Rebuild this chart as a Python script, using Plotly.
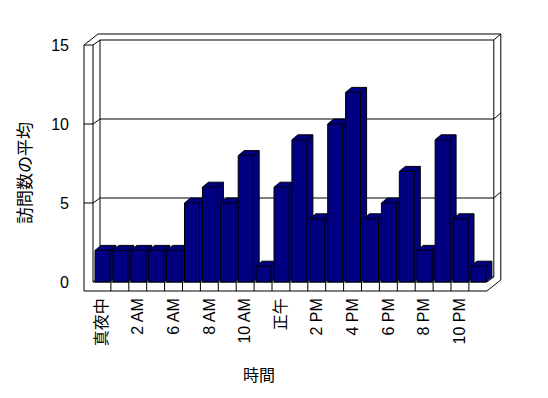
import plotly.graph_objects as go

# ---------------- data ----------------
categories = ["真夜中", "1 AM", "2 AM", "4 AM", "6 AM", "7 AM", "8 AM", "9 AM", "10 AM", "11 AM",
              "正午", "1 PM", "2 PM", "3 PM", "4 PM", "5 PM", "6 PM", "7 PM", "8 PM", "9 PM",
              "10 PM", "11 PM"]
visits = [2, 2, 2, 2, 2, 5, 6, 5, 8, 1, 6, 9, 4, 10, 12, 4, 5, 7, 2, 9, 4, 1]
y_ticks = [0, 5, 10, 15]
x_title = "時間"
y_title = "訪問数の平均"

# ---------------- geometry (reference pixels -> data units) ----------------
VW, VH = 548, 398      # window
OFF = 8                # page body margin
W, H = VW - OFF, VH - OFF
CW = 17.9              # px per category
VU = 15.8              # px per value unit
FX, FY = 93, 282       # front plane: left edge px, base px
L_PX, R_PX, T_PX, B_PX = 80, 506, 30, 296


def px2x(p):
    return -0.5 + (p - FX) / CW


def py2y(p):
    return (FY - p) / VU


def paper_x(p):
    return (p - L_PX) / (R_PX - L_PX)


def paper_y(p):
    return (B_PX - p) / (B_PX - T_PX)


n = len(categories)
x0, x1 = -0.5, n - 0.5
y0, y1 = y_ticks[0], y_ticks[-1]
d1x, d1y = 7 / CW, 5 / VU          # plot depth
d2x, d2y = 14 / CW, 11 / VU        # plot depth + wall thickness
tw = 9 / CW                        # left wall thickness
tf = 9 / VU                        # floor thickness
bdx, bdy = 6 / CW, 5 / VU          # bar depth
b_off, b_w = 2 / CW, 15 / CW       # bar offset / width inside category

LINE = dict(color="black", width=1)
fig = go.Figure()


def poly(xs, ys, fill=None):
    fig.add_trace(go.Scatter(
        x=xs, y=ys, mode="lines", line=LINE,
        fill="toself" if fill else None, fillcolor=fill,
        hoverinfo="skip", showlegend=False))


# walls / floor silhouette
poly([x0 - tw, x0 - tw, x1, x1 + d2x, x1 + d2x, x0 - tw + d2x, x0 - tw],
     [y1, y0 - tf, y0 - tf, y0 - tf + d2y, y1 + d2y, y1 + d2y, y1], fill="white")

# inner edges of walls
xs, ys = [], []


def seg(px_, py_):
    xs.extend(px_ + [None])
    ys.extend(py_ + [None])


seg([x0, x0, x1, x1 + d1x, x1 + d1x, x1 + d2x],
    [y1, y0, y0, y0 + d1y, y1 + d1y, y1 + d2y])
seg([x0 - tw, x0, x0 + d1x, x1 + d1x], [y1, y1, y1 + d1y, y1 + d1y])
seg([x0, x0 + d1x, x1 + d1x], [y0, y0 + d1y, y0 + d1y])
seg([x0 + d1x, x0 + d1x], [y0 + d1y, y1 + d1y])
for v in y_ticks[1:-1]:
    seg([x0 - tw, x0, x0 + d1x, x1 + d1x, x1 + d2x],
        [v, v, v + d1y, v + d1y, v + d2y])
for k in range(1, n):
    seg([x0 + k, x0 + k], [y0 - tf, y0])
poly(xs, ys)

# 3D bars
for i, v in enumerate(visits):
    l = i - 0.5 + b_off
    r = l + b_w
    bx = [l, l, l + bdx, r + bdx, r + bdx, r, l, None, l, r, r, None, r, r + bdx]
    by = [0, v, v + bdy, v + bdy, bdy, 0, 0, None, v, v, 0, None, v, v + bdy]
    fig.add_trace(go.Scatter(
        x=bx, y=by, mode="lines", line=LINE, fill="toself", fillcolor="#000080",
        hoverinfo="skip", showlegend=False, name=categories[i]))

FONT = "Liberation Sans, Arial, Noto Sans CJK JP, sans-serif"

fig.update_layout(
    width=W, height=H,
    margin=dict(l=L_PX - OFF, r=VW - R_PX, t=T_PX - OFF, b=VH - B_PX, autoexpand=False),
    paper_bgcolor="white", plot_bgcolor="rgba(0,0,0,0)",
    font=dict(family=FONT, size=16, color="black"),
    showlegend=False,
    xaxis=dict(range=[px2x(L_PX), px2x(R_PX)], showgrid=False, zeroline=False,
               showline=False, ticks="", tickangle=-90,
               tickvals=list(range(0, n, 2)), ticktext=categories[::2],
               ticklabelstandoff=-2, automargin=False, fixedrange=True),
    yaxis=dict(range=[py2y(B_PX), py2y(T_PX)], showgrid=False, zeroline=False,
               showline=False, ticks="", tickvals=y_ticks,
               ticklabelstandoff=10, automargin=False, fixedrange=True),
    annotations=[
        dict(text=x_title, x=paper_x(259), y=paper_y(375), xref="paper", yref="paper",
             showarrow=False, font=dict(size=16), xanchor="center", yanchor="middle"),
        dict(text=y_title, x=paper_x(25), y=paper_y(173), xref="paper", yref="paper",
             showarrow=False, font=dict(size=17), textangle=-90,
             xanchor="center", yanchor="middle"),
    ],
)

fig.write_html("out.html")
